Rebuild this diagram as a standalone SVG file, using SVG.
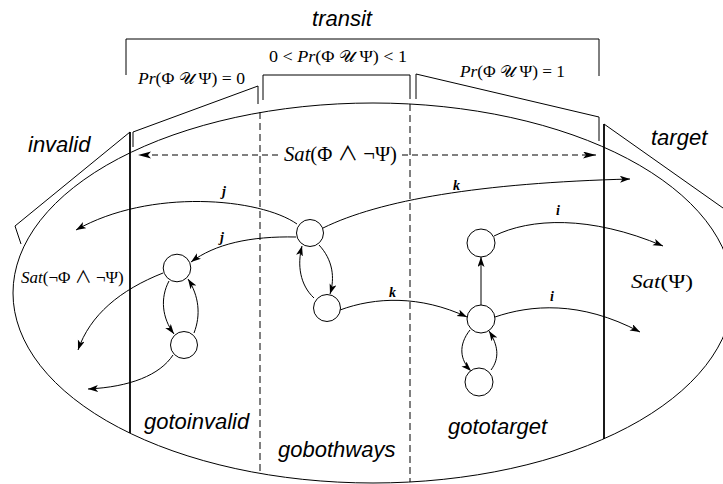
<svg xmlns="http://www.w3.org/2000/svg" width="723" height="484" viewBox="0 0 723 484">
<defs>
<marker id="ah" markerUnits="userSpaceOnUse" markerWidth="11" markerHeight="8" refX="10" refY="3.5" orient="auto">
<path d="M0,0 L10,3.5 L0,7 L2.5,3.5 z" fill="#000"/>
</marker>
<marker id="ahd" markerUnits="userSpaceOnUse" markerWidth="14" markerHeight="8" refX="13" refY="3.5" orient="auto">
<path d="M0,0 L13,3.5 L0,7 L3,3.5 z" fill="#000"/>
</marker>
</defs>
<style>
.ln{fill:none;stroke:#000;stroke-width:1}
.thick{fill:none;stroke:#000;stroke-width:1.8}
.dash{fill:none;stroke:#000;stroke-width:1;stroke-dasharray:7,4}
.dash2{fill:none;stroke:#000;stroke-width:1;stroke-dasharray:6,4}
.edge{fill:none;stroke:#000;stroke-width:1;marker-end:url(#ah)}
.node{fill:#fff;stroke:#000;stroke-width:1}
.lab{font-family:"Liberation Sans",Arial,sans-serif;font-style:italic;font-size:22px;fill:#000}
.m{font-family:"Liberation Serif","DejaVu Serif",serif;fill:#000}
.i{font-style:italic}
.cal{font-family:"DejaVu Serif","DejaVu Sans",serif;font-style:normal;font-weight:normal}
.op{font-family:"Noto Sans CJK JP","DejaVu Sans",sans-serif;font-weight:normal}
.el{font-family:"Liberation Serif","DejaVu Serif",serif;font-style:italic;font-weight:bold;font-size:14px;fill:#000}
</style>
<rect width="723" height="484" fill="#fff"/>

<g id="regions">
<ellipse class="ln" cx="373" cy="293" rx="360" ry="190"/>
<path class="thick" d="M130,132 V433"/>
<path class="thick" d="M604,124 V439"/>
<path class="dash" d="M260,112 V474"/>
<path class="dash" d="M410,104 V482"/>
</g>

<g id="brackets">
<path class="ln" d="M126,75 V39 H599 V76"/>
<path class="ln" d="M263,100 V75 H410 V99"/>
<path class="ln" d="M258,104 V86 L133,132 V147"/>
<path class="ln" d="M416,99 V74 L599,117 V141"/>
<path class="ln" d="M130,132 L15,226 L21,244"/>
<path class="ln" d="M604,124 L740,220"/>
</g>

<g id="labels">
<text class="lab" x="342" y="26" text-anchor="middle">transit</text>
<text class="lab" x="28" y="152">invalid</text>
<text class="lab" x="651" y="145">target</text>
<text class="lab" x="144" y="429">gotoinvalid</text>
<text class="lab" x="278" y="457">gobothways</text>
<text class="lab" x="448" y="434">gototarget</text>
<text class="m" font-size="16" x="138" y="84" textLength="107" lengthAdjust="spacingAndGlyphs"><tspan class="i">Pr</tspan>(Φ <tspan class="cal">𝒰</tspan> Ψ) = 0</text>
<text class="m" font-size="16" x="269" y="62" textLength="138" lengthAdjust="spacingAndGlyphs">0 &lt; <tspan class="i">Pr</tspan>(Φ <tspan class="cal">𝒰</tspan> Ψ) &lt; 1</text>
<text class="m" font-size="16" x="460" y="77" textLength="105" lengthAdjust="spacingAndGlyphs"><tspan class="i">Pr</tspan>(Φ <tspan class="cal">𝒰</tspan> Ψ) = 1</text>
<text class="m" font-size="20" x="284" y="161" textLength="113" lengthAdjust="spacingAndGlyphs"><tspan class="i">Sat</tspan>(Φ <tspan class="op">∧</tspan> ¬Ψ)</text>
<text class="m" font-size="17" x="21" y="283"><tspan class="i">Sat</tspan>(¬Φ <tspan class="op">∧</tspan> ¬Ψ)</text>
<text class="m" font-size="19" x="631" y="288" textLength="62" lengthAdjust="spacingAndGlyphs"><tspan class="i">Sat</tspan>(Ψ)</text>
</g>

<g id="connectors">
<path class="dash2" d="M278,155 H138" marker-end="url(#ahd)"/>
<path class="dash2" d="M402,155 H596" marker-end="url(#ahd)"/>
<path class="edge" d="M297,224 C 260,198 150,188 76,230"/>
<path class="edge" d="M296,237 C 250,236 215,244 191,262"/>
<path class="edge" d="M323,228 C 380,200 480,183 630,179"/>
<path class="edge" d="M340,310 C 375,297 420,295 467,317"/>
<path class="edge" d="M494,236 C 530,218 590,215 663,246"/>
<path class="edge" d="M495,317 C 530,305 580,300 640,332"/>
<path class="edge" d="M481,305 V257"/>
<path class="edge" d="M470,330 C 458,345 460,360 471,371"/>
<path class="edge" d="M491,370 C 500,358 498,345 489,331"/>
<path class="edge" d="M319,245 C 333,260 335,278 330,294"/>
<path class="edge" d="M314,298 C 300,285 297,265 302,246"/>
<path class="edge" d="M169,281 C 160,298 162,318 174,334"/>
<path class="edge" d="M194,333 C 201,315 199,296 188,279"/>
<path class="edge" d="M163,273 C 120,290 90,315 78,350"/>
<path class="edge" d="M173,355 C 160,375 130,387 88,389"/>
<text class="el" x="222" y="196">j</text>
<text class="el" x="220" y="242">j</text>
<text class="el" x="453" y="190">k</text>
<text class="el" x="389" y="297">k</text>
<text class="el" x="556" y="215">i</text>
<text class="el" x="550" y="301">i</text>
</g>

<g id="nA"><circle class="node" cx="310" cy="233" r="13.5"/></g>
<g id="nB"><circle class="node" cx="327" cy="308" r="13.5"/></g>
<g id="nC"><circle class="node" cx="177" cy="268" r="13.8"/></g>
<g id="nD"><circle class="node" cx="184" cy="345" r="13.5"/></g>
<g id="nE"><circle class="node" cx="481" cy="243" r="14"/></g>
<g id="nF"><circle class="node" cx="481" cy="319" r="14"/></g>
<g id="nG"><circle class="node" cx="479" cy="382" r="14"/></g>
</svg>
